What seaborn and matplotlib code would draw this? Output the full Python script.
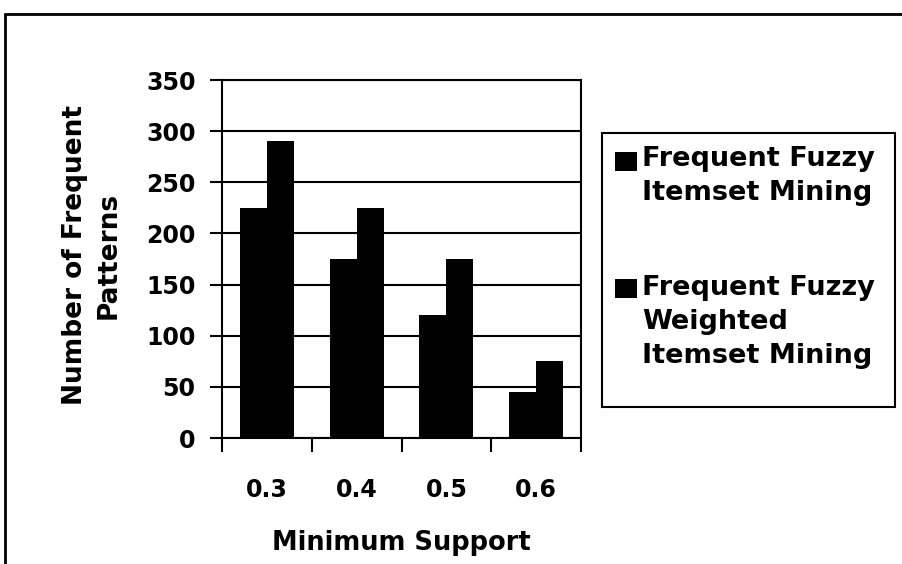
import matplotlib
matplotlib.use("Agg")
import matplotlib.pyplot as plt
import seaborn as sns
import pandas as pd
from matplotlib.lines import Line2D
from matplotlib.patches import Patch, Rectangle
from matplotlib.legend_handler import HandlerBase

categories = ["0.3", "0.4", "0.5", "0.6"]
series_names = ["Frequent Fuzzy\nItemset Mining",
                "Frequent Fuzzy\nWeighted\nItemset Mining"]
ffim = [225, 175, 120, 45]
ffwim = [290, 225, 175, 75]
y_ticks = [0, 50, 100, 150, 200, 250, 300, 350]

df = pd.DataFrame({
    "support": categories * 2,
    "series": [series_names[0]] * 4 + [series_names[1]] * 4,
    "count": ffim + ffwim,
})

sns.set_theme(style="white")
plt.rcParams["font.family"] = ["DejaVu Sans"]
plt.rcParams["font.weight"] = "bold"
plt.rcParams["text.color"] = "black"
plt.rcParams["axes.labelcolor"] = "black"
plt.rcParams["xtick.color"] = "black"
plt.rcParams["ytick.color"] = "black"

fig = plt.figure(figsize=(9.03, 5.64), dpi=100)
ax = fig.add_axes([222 / 903, 1 - 438 / 564, (581 - 222) / 903, (438 - 80) / 564])

sns.barplot(data=df, x="support", y="count", hue="series", order=categories,
            hue_order=series_names, palette=["black", "black"], width=0.6,
            saturation=1, edgecolor="none", linewidth=0, ax=ax, legend=False)

ax.set_ylim(0, 350)
ax.set_xlim(-0.5, 3.5)
ax.set_yticks(y_ticks)
ax.set_yticklabels([str(v) for v in y_ticks], fontsize=17, fontweight="bold")
ax.set_xticks(range(len(categories)))
ax.set_xticklabels(categories, fontsize=17, fontweight="bold")
ax.set_xticks([-0.5, 0.5, 1.5, 2.5, 3.5], minor=True)
ax.tick_params(axis="x", which="major", length=0, pad=29, colors="black")
ax.tick_params(axis="x", which="minor", length=10, width=1.5, direction="out",
               colors="black", bottom=True)
ax.tick_params(axis="y", which="major", length=9, width=1.5, direction="out",
               pad=10, colors="black", left=True)
ax.yaxis.grid(True, color="black", linewidth=1.5)
ax.xaxis.grid(False)
ax.set_axisbelow(True)
for side in ["left", "bottom", "right", "top"]:
    ax.spines[side].set_visible(True)
    ax.spines[side].set_color("black")
    ax.spines[side].set_linewidth(1.5)
ax.set_xlabel("")
ax.set_ylabel("")


class TopSquare(HandlerBase):
    def __init__(self, shift):
        super().__init__()
        self.shift = shift

    def create_artists(self, legend, orig_handle, xdescent, ydescent, width,
                       height, fontsize, trans):
        r = Rectangle((-xdescent, -ydescent + self.shift * fontsize), width,
                      height, facecolor="black", edgecolor="none", transform=trans)
        return [r]


h1 = Patch(facecolor="black")
h2 = Patch(facecolor="black")
leg = fig.legend([h1, h2], series_names, loc="upper left",
                 bbox_to_anchor=(615 / 903, 1 - 146 / 564), borderaxespad=0,
                 prop={"family": "DejaVu Sans", "weight": "bold", "size": 19.5},
                 frameon=False, labelcolor="black",
                 handlelength=0.8, handleheight=0.7, handletextpad=0.2,
                 labelspacing=2.55, borderpad=0.0,
                 handler_map={h1: TopSquare(0.55), h2: TopSquare(1.25)})
for t in leg.get_texts():
    t.set_linespacing(1.4)

fig.add_artist(Rectangle((602 / 903, 1 - 407 / 564), (895 - 602) / 903,
                         (407 - 133) / 564, transform=fig.transFigure,
                         facecolor="none", edgecolor="black", linewidth=1.5))

fig.text(401 / 903, 1 - 550 / 564, "Minimum Support", ha="center", va="baseline",
         fontsize=18.5, fontweight="bold", color="black")
fig.text(92 / 903, 1 - 255 / 564, "Number of Frequent\nPatterns", ha="center",
         va="center", rotation=90, multialignment="center", fontsize=19,
         fontweight="bold", color="black", linespacing=1.35)

fig.add_artist(Line2D([5 / 903, 1], [1 - 14 / 564, 1 - 14 / 564],
                      transform=fig.transFigure, color="black", linewidth=2))
fig.add_artist(Line2D([5 / 903, 5 / 903], [0, 1 - 14 / 564],
                      transform=fig.transFigure, color="black", linewidth=2))

fig.savefig("out.png", dpi=100)
